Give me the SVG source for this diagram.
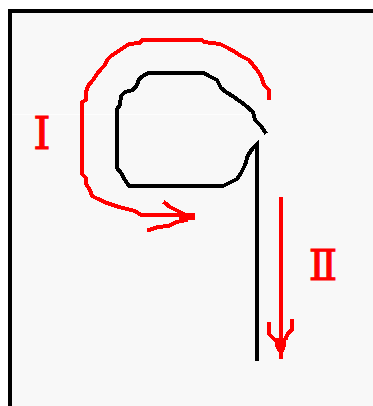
<svg xmlns="http://www.w3.org/2000/svg" width="373" height="406" viewBox="0 0 373 406">
  <style>
    .blk{fill:none;stroke:#000;stroke-width:4;stroke-linejoin:miter;stroke-linecap:square}
    .red{fill:none;stroke:#ff0000;stroke-width:4;stroke-linejoin:miter;stroke-linecap:square}
    .redf{fill:#ff0000}
    .lbl{fill:#ff0000;stroke:#ff0000;stroke-width:1;font-family:"DejaVu Serif","Liberation Serif",serif;text-anchor:middle}
  </style>
  <rect x="0" y="0" width="373" height="406" fill="#ffffff"/>
  <rect x="12" y="13" width="361" height="393" fill="#f8f8f8"/>
  <line x1="12" y1="114.5" x2="245" y2="114.5" stroke="#fdfdfd" stroke-width="1"/>
  <g id="frame" fill="#000">
    <rect x="8" y="9" width="365" height="4"/>
    <rect x="8" y="9" width="4" height="397"/>
  </g>
  <g id="loop" shape-rendering="crispEdges">
    <path class="blk" d="M265,132 L261,126 L255,120 L253,112 L245,105 L234,97 L226,92 L221,88 L217,80 L209,76 L204,73 L148,73 L143,76 L139,79 L137,85 L133,90 L125,92 L121,96 L120,105 L117,109 L117,168 L121,173 L125,180 L129,186 L223,186 L229,183 L237,179 L241,173 L245,165 L248,155 L253,148 L257,144 L257,359"/>
  </g>
  <g id="connectors" shape-rendering="crispEdges">
    <g id="arrow-I">
      <path class="red" d="M269,98 L269,90 L264,85 L261,76 L257,70 L253,65 L249,60 L241,56 L235,52 L228,48 L220,44 L204,42 L202,40 L142,40 L140,43 L129,44 L123,48 L117,52 L111,56 L107,60 L105,65 L102,68 L97,74 L93,80 L88,86 L86,92 L86,100 L82,102 L82,174 L86,178 L86,184 L90,190 L92,196 L98,199 L107,203 L119,207 L135,211 L141,215 L182,215"/>
      <path class="red" d="M165,203 L170,207 L178,211 L186,215"/>
      <path class="red" d="M149,230 L158,227 L168,226 L177,222 L186,220"/>
      <rect class="redf" x="179" y="213" width="16" height="7"/>
    </g>
    <g id="arrow-II">
      <path class="red" d="M281,199 L281,357"/>
      <path class="red" d="M269,324 L269,334 L273,338 L277,342"/>
      <path class="red" d="M292,321 L292,330 L288,333 L286,338"/>
      <polygon class="redf" points="275,338 286,338 286,346 284,352 278,352 275,346"/>
    </g>
  </g>
  <g id="label-I"><text class="lbl" x="42" y="149" font-size="44">Ⅰ</text></g>
  <g id="label-II"><text class="lbl" x="323" y="280" font-size="42">Ⅱ</text></g>
</svg>
